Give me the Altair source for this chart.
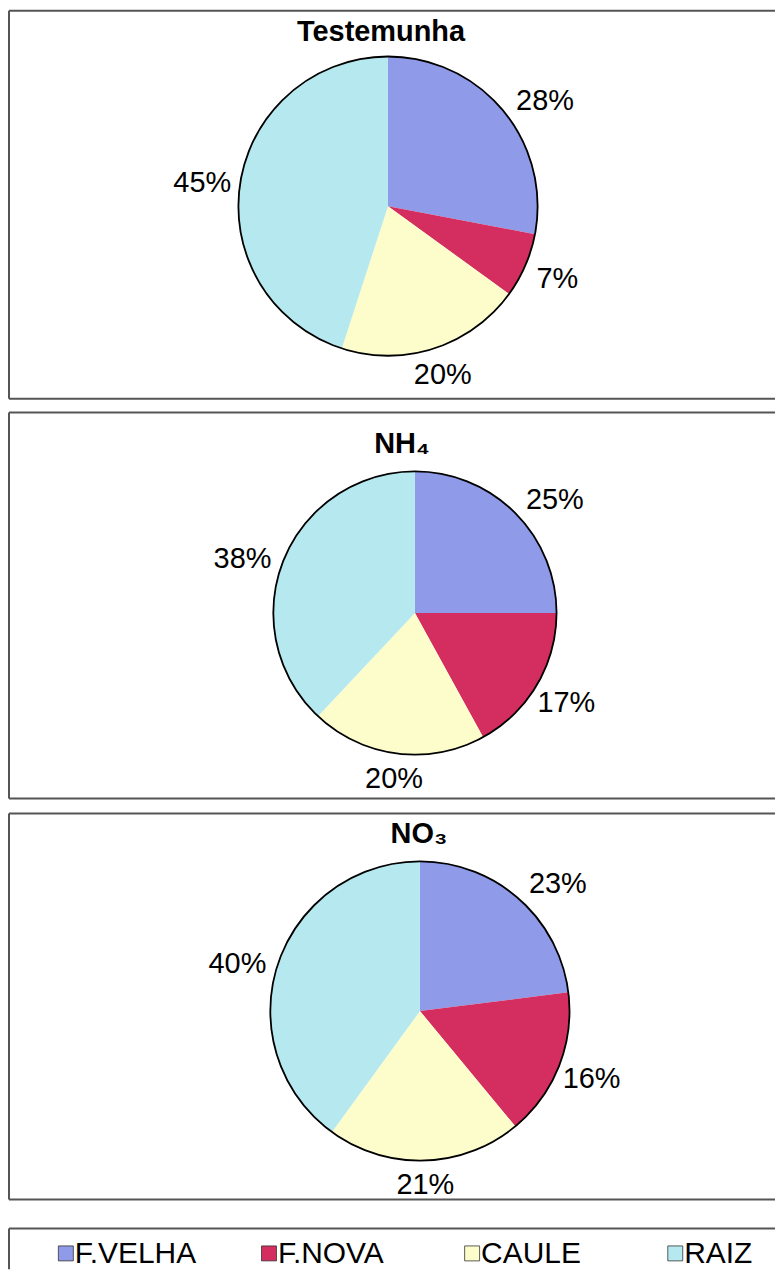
import altair as alt
import pandas as pd

# ---- data ----
categories = ["F.VELHA", "F.NOVA", "CAULE", "RAIZ"]
colors = ["#8f9ae8", "#d42d60", "#fdfdcc", "#b5e9ef"]
testemunha = [28, 7, 20, 45]
nh4 = [25, 17, 20, 38]
no3 = [23, 16, 21, 40]
panel_titles = ["Testemunha", "NH₄", "NO₃"]

W = 768
FONT = "Liberation Sans"
BORDER = "#555555"
color_scale = alt.Scale(domain=categories, range=colors)


def frame(box_h, bottom=True):
    one = alt.Chart(pd.DataFrame({"k": [0]}))
    layers = [
        one.mark_rule(color=BORDER, strokeWidth=2).encode(
            x=alt.value(0), x2=alt.value(W), y=alt.value(0)),
        one.mark_rule(color=BORDER, strokeWidth=2).encode(
            x=alt.value(0), y=alt.value(0), y2=alt.value(box_h)),
    ]
    if bottom:
        layers.append(one.mark_rule(color=BORDER, strokeWidth=2).encode(
            x=alt.value(0), x2=alt.value(W), y=alt.value(box_h)))
    return layers


def panel(values, title, height, box_h, cx, cy, r, tx, ty):
    df = pd.DataFrame({
        "cat": categories,
        "value": values,
        "idx": list(range(len(categories))),
        "label": [f"{v}%" for v in values],
    })
    base = alt.Chart(df)
    theta = alt.Theta("value:Q", stack=True)
    order = alt.Order("idx:Q")
    arcs = base.mark_arc(outerRadius=r).encode(
        theta=theta,
        color=alt.Color("cat:N", scale=color_scale, legend=None),
        order=order,
        x=alt.value(cx), y=alt.value(cy),
    )
    outline = alt.Chart(pd.DataFrame({"k": [0]})).mark_arc(
        outerRadius=r, theta=0, theta2=6.2832, fillOpacity=0,
        stroke="black", strokeWidth=1.8,
    ).encode(x=alt.value(cx), y=alt.value(cy))
    # label placement: outside the pie, mimicking spreadsheet "outside end" labels
    labels = base.transform_window(
        cum="sum(value)", sort=[alt.SortField("idx")]
    ).transform_joinaggregate(
        total="sum(value)"
    ).transform_calculate(
        mid0="(datum.cum - datum.value / 2) / datum.total * 2 * PI",
    ).transform_calculate(
        upper="cos(datum.mid0) > 0 ? 1 : 0",
    ).transform_calculate(
        mid="datum.mid0 + datum.upper * 0.105 * sin(2 * datum.mid0)",
        rad=f"{r} + 24 + 12 * abs(sin(datum.mid0)) + datum.upper * 6 * abs(sin(2 * datum.mid0))",
    ).transform_calculate(
        px=f"{cx} + datum.rad * sin(datum.mid)",
        py=f"{cy} - datum.rad * cos(datum.mid)",
    ).mark_text(
        font=FONT, fontSize=29, align="center", baseline="middle", color="black"
    ).encode(
        x=alt.X("px:Q", scale=None, axis=None),
        y=alt.Y("py:Q", scale=None, axis=None),
        text="label:N",
    )
    ttl = alt.Chart(pd.DataFrame({"t": [title]})).mark_text(
        font=FONT, fontSize=29, fontWeight="bold", align="center",
        baseline="alphabetic", color="black",
    ).encode(text="t:N", x=alt.value(tx), y=alt.value(ty))
    return alt.layer(arcs, outline, labels, ttl, *frame(box_h)).properties(
        width=W, height=height)


p1 = panel(testemunha, panel_titles[0], 402, 389, 380, 196, 150, 373, 30)
p2 = panel(nh4, panel_titles[1], 401, 387, 407, 201, 142, 394, 41)
p3 = panel(no3, panel_titles[2], 415, 387, 412, 198, 150, 411, 30)

leg_df = pd.DataFrame({"cat": categories})
leg_x = alt.X("cat:N", scale=alt.Scale(type="point", domain=categories,
                                        range=[57, 668], padding=0), axis=None)
leg_sq = alt.Chart(leg_df).mark_square(
    size=225, stroke="#333333", strokeWidth=0.8, opacity=1).encode(
    x=leg_x, y=alt.value(25),
    color=alt.Color("cat:N", scale=color_scale, legend=None))
leg_tx = alt.Chart(leg_df).mark_text(
    font=FONT, fontSize=30, align="left", baseline="middle", dx=9,
    color="black").encode(x=leg_x, y=alt.value(26), text="cat:N")
legend = alt.layer(leg_sq, leg_tx, *frame(41, bottom=False)).properties(
    width=W, height=41)

chart = alt.vconcat(p1, p2, p3, legend, spacing=0).properties(
    padding=0, background="white"
).configure_view(strokeOpacity=0)

chart.save("out.html", embed_options={"renderer": "svg", "actions": False})
